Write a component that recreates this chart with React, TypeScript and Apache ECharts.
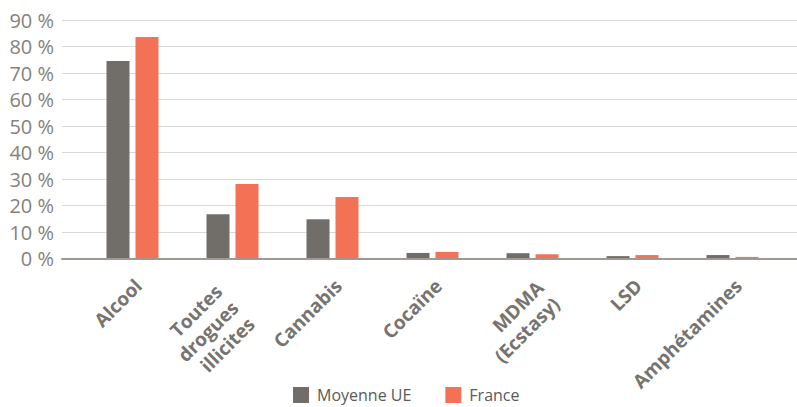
import React, { useEffect, useRef } from "react";
import * as echarts from "echarts";

const categories = [
  "Alcool",
  "Toutes\ndrogues\nillicites",
  "Cannabis",
  "Cocaïne",
  "MDMA\n(Ecstasy)",
  "LSD",
  "Amphétamines",
];
const seriesNames = ["Moyenne UE", "France"];
const moyenneUE = [74.5, 16.7, 14.8, 2.1, 2.0, 0.9, 1.3];
const france = [83.6, 28.1, 23.2, 2.5, 1.6, 1.3, 0.6];
const yMin = 0;
const yMax = 90;
const yInterval = 10;

const GRAY = "#716d68";
const ORANGE = "#f37155";

// label placement groups: [indices shown, horizontal shift, margin]
const labelGroups: { idx: number[]; dx: number; margin: number }[] = [
  { idx: [0, 2, 3, 5, 6], dx: 6, margin: 24 },
  { idx: [1], dx: 2.5, margin: 46 },
  { idx: [4], dx: 17.5, margin: 34 },
];

const GRID_TOP = 20;
const GRID_BOTTOM = 148.5;
const BAR_LEFT = 82.5;
const BAR_RIGHT = 14.5;

export default function App() {
  const ref = useRef<HTMLDivElement>(null);
  useEffect(() => {
    if (!ref.current) return;
    const chart = echarts.init(ref.current, undefined, { renderer: "svg" });

    const grids: any[] = [
      { left: 62, right: 0, top: GRID_TOP, bottom: GRID_BOTTOM },
      { left: BAR_LEFT, right: BAR_RIGHT, top: GRID_TOP, bottom: GRID_BOTTOM },
    ];
    const xAxes: any[] = [
      {
        type: "category",
        gridIndex: 0,
        data: [""],
        z: 5,
        axisLine: { show: true, lineStyle: { color: "#9e9a93", width: 2 } },
        axisTick: { show: false },
        axisLabel: { show: false },
      },
      {
        type: "category",
        gridIndex: 1,
        data: categories,
        axisLine: { show: false },
        axisTick: { show: false },
        axisLabel: { show: false },
      },
    ];
    const yAxes: any[] = [
      {
        type: "value",
        gridIndex: 0,
        min: yMin,
        max: yMax,
        interval: yInterval,
        axisLine: { show: false },
        axisTick: { show: false },
        splitLine: { lineStyle: { color: "#d9d9d9", width: 1 } },
        axisLabel: {
          formatter: "{value} %",
          margin: 8,
          fontFamily: "Open Sans",
          fontSize: 20,
          color: "#86817c",
        },
      },
      {
        type: "value",
        gridIndex: 1,
        min: yMin,
        max: yMax,
        interval: yInterval,
        show: false,
        splitLine: { show: false },
      },
    ];

    labelGroups.forEach((g, k) => {
      const gi = 2 + k;
      grids.push({
        left: BAR_LEFT + g.dx,
        right: BAR_RIGHT - g.dx,
        top: GRID_TOP,
        bottom: GRID_BOTTOM,
      });
      xAxes.push({
        type: "category",
        gridIndex: gi,
        data: categories,
        axisLine: { show: false },
        axisTick: { show: false },
        axisLabel: {
          rotate: 45,
          margin: g.margin,
          fontFamily: "Open Sans",
          fontWeight: "bold",
          fontSize: 19,
          lineHeight: 23,
          color: "#77736e",
          interval: 0,
          formatter: (v: string, i: number) => (g.idx.includes(i) ? v : ""),
        },
      });
      yAxes.push({
        type: "value",
        gridIndex: gi,
        min: yMin,
        max: yMax,
        interval: yInterval,
        show: false,
        splitLine: { show: false },
      });
    });

    chart.setOption({
      animation: false,
      backgroundColor: "#ffffff",
      grid: grids,
      legend: {
        data: seriesNames,
        top: 387,
        left: 293,
        padding: 0,
        icon: "rect",
        itemWidth: 16,
        itemHeight: 16,
        itemGap: 34,
        textStyle: {
          fontFamily: "Open Sans",
          fontSize: 16,
          lineHeight: 16,
          color: "#5a5a5a",
          padding: [0, 0, 0, 3],
        },
      },
      xAxis: xAxes,
      yAxis: yAxes,
      series: [
        {
          name: seriesNames[0],
          type: "bar",
          xAxisIndex: 1,
          yAxisIndex: 1,
          data: moyenneUE,
          barWidth: 23,
          barGap: "26%",
          itemStyle: { color: GRAY },
        },
        {
          name: seriesNames[1],
          type: "bar",
          xAxisIndex: 1,
          yAxisIndex: 1,
          data: france,
          barWidth: 23,
          barGap: "26%",
          itemStyle: { color: ORANGE },
        },
      ],
    });
    return () => chart.dispose();
  }, []);
  return (
    <div
      ref={ref}
      style={{ position: "fixed", left: 0, top: 0, width: 797, height: 407 }}
    />
  );
}
